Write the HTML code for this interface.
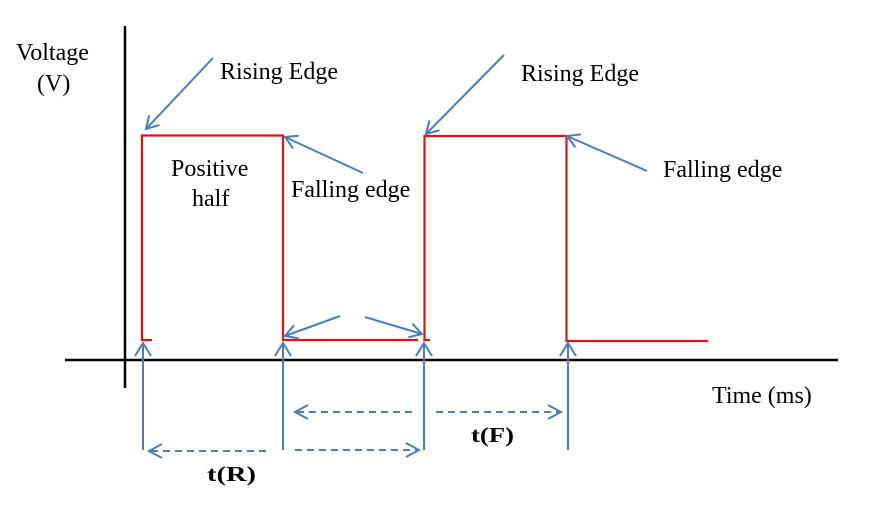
<!DOCTYPE html>
<html><head><meta charset="utf-8"><style>
html,body{margin:0;padding:0;background:#fff;}
svg{display:block;}
text{font-family:"Liberation Serif",serif;font-size:24px;fill:#000;}
.b{font-weight:bold;font-size:21px;}
</style></head><body>
<svg width="870" height="509" viewBox="0 0 870 509" xmlns="http://www.w3.org/2000/svg">
<rect width="870" height="509" fill="#fff"/>
<!-- axes -->
<line x1="125" y1="26" x2="125" y2="388" stroke="#000" stroke-width="2.5"/>
<line x1="65" y1="360" x2="838" y2="360" stroke="#000" stroke-width="2.5"/>
<!-- red waveform -->
<g fill="none" stroke="#dc1414" stroke-width="2.2">
<polyline points="152,340 142,340 142,135.5 283,135.5 283,340 418,340"/>
<polyline points="430,340 424.5,340 424.5,136 566.5,136 566.5,341 708,341"/>
</g>
<!-- blue arrows -->
<g fill="none" stroke="#4a7ebb" stroke-width="2" stroke-linejoin="miter">
<line x1="213" y1="58" x2="146" y2="129"/>
<polyline points="159.4,125 146,129 149.2,115.4"/>
<line x1="363" y1="173" x2="285" y2="137"/>
<polyline points="293.1,148.4 285,137 298.9,135.7"/>
<line x1="504" y1="55" x2="426" y2="134"/>
<polyline points="439.5,130.3 426,134 429.5,120.4"/>
<line x1="647" y1="171" x2="567" y2="136"/>
<polyline points="575.3,147.3 567,136 580.9,134.4"/>
<line x1="340" y1="316" x2="285" y2="336"/>
<polyline points="298.8,338.4 285,336 294,325.3"/>
<line x1="365" y1="317" x2="422" y2="334"/>
<polyline points="412.4,323.8 422,334 408.4,337.2"/>
<!-- vertical arrows -->
<line x1="143" y1="343" x2="143" y2="450"/>
<polyline points="135,356 143,343 151,356"/>
<line x1="283" y1="343" x2="283" y2="450"/>
<polyline points="275,356 283,343 291,356"/>
<line x1="424" y1="343" x2="424" y2="450"/>
<polyline points="416,356 424,343 432,356"/>
<line x1="568" y1="343" x2="568" y2="450"/>
<polyline points="560,356 568,343 576,356"/>
<!-- dashed -->
<g stroke-dasharray="7,5">
<line x1="297" y1="412" x2="416" y2="412"/>
<line x1="436" y1="412" x2="559" y2="412"/>
<line x1="151" y1="451" x2="270" y2="451"/>
<line x1="295" y1="450" x2="417" y2="450"/>
</g>
<polyline points="308,405 295,412 308,419"/>
<polyline points="548,405 561,412 548,419"/>
<polyline points="162,444 149,451 162,458"/>
<polyline points="406,443 419,450 406,457"/>
</g>
<!-- labels -->
<text x="16" y="60">Voltage</text>
<text x="37" y="91">(V)</text>
<text x="220" y="79">Rising Edge</text>
<text x="171" y="176">Positive</text>
<text x="192" y="206">half</text>
<text x="291" y="197">Falling edge</text>
<text x="521" y="81">Rising Edge</text>
<text x="663" y="177">Falling edge</text>
<text x="712" y="403">Time (ms)</text>
<text class="b" x="207" y="481" textLength="49" lengthAdjust="spacingAndGlyphs">t(R)</text>
<text class="b" x="471" y="442" textLength="43" lengthAdjust="spacingAndGlyphs">t(F)</text>
</svg>
</body></html>
